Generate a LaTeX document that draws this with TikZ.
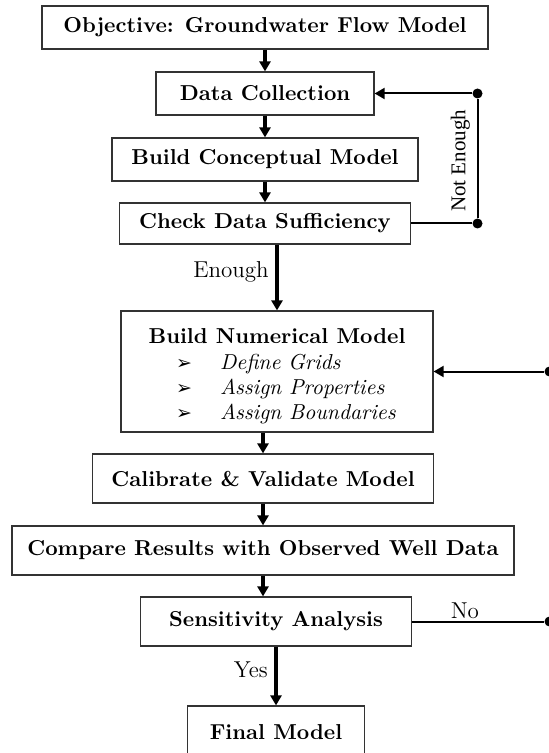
\documentclass[tikz,border=0pt]{standalone}
\usepackage{fontspec}
\newfontfamily\symfont{DejaVu Sans}
\newfontfamily\timesfont{Liberation Serif}
\usetikzlibrary{arrows.meta,positioning}
\tikzstyle{process} = [rectangle, draw=black!80, line width=0.6pt, align=center, inner sep=2pt, font=\fontsize{10.8}{12.5}\selectfont\bfseries]
\tikzstyle{arrow} = [line width=1.6pt,->,>={Triangle[length=5pt,width=5.5pt]}]
\tikzstyle{loopline} = [line width=1pt]
\tikzstyle{looparrow} = [line width=1pt,->,>={Triangle[length=5pt,width=5.5pt]}]
\tikzstyle{dot} = [circle, fill=black, inner sep=0pt, minimum size=5pt]
\tikzstyle{lbl} = [font=\fontsize{11.5}{13}\selectfont]

\begin{document}
\begin{tikzpicture}[node distance=33pt]
\useasboundingbox (0,0) rectangle (274.5pt,-376.5pt);
\node (objective) [process, minimum width=223pt, minimum height=21.5pt] at (132.5pt,-13.75pt) {Objective: Groundwater Flow Model};
\node (datacoll) [process, below of=objective, minimum width=109pt, minimum height=21.5pt] {Data Collection};
\draw [arrow] (objective) -- (datacoll);
\node (concept) [process, below of=datacoll, minimum width=153pt, minimum height=21.5pt] {Build Conceptual Model};
\draw [arrow] (datacoll) -- (concept);
\node (check) [process, below of=concept, yshift=1pt, minimum width=145.5pt, minimum height=20.5pt] {Check Data Sufficiency};
\draw [arrow] (concept) -- (check);

% not enough loop
\node (ckdot) [dot, right=30.5pt of check] {};
\node (dcdot) [dot] at (ckdot |- datacoll) {};
\draw [loopline] (check.east) -- (ckdot) -- node [font=\timesfont\fontsize{10.5}{12}\selectfont, rotate=90, anchor=south, pos=0.48] {Not Enough} (dcdot);
\draw [looparrow] (dcdot) -- (datacoll.east);

\node (numerical) [process, below of=check, yshift=-41pt, xshift=6pt, minimum width=156pt, minimum height=60.5pt] {\rule{0pt}{14pt}Build Numerical Model\\[3pt]
  {\normalfont\hspace*{9pt}\begin{tabular}{@{}l@{\hspace{14pt}}l@{}}
  {\symfont\fontsize{9.5}{10}\selectfont ➢} & \textit{Define Grids}\\
  {\symfont\fontsize{9.5}{10}\selectfont ➢} & \textit{Assign Properties}\\
  {\symfont\fontsize{9.5}{10}\selectfont ➢} & \textit{Assign Boundaries}
  \end{tabular}}};
\draw [arrow] (check.south -| numerical) -- node [lbl, left, pos=0.42] {Enough} (numerical);

\node (calibrate) [process, below of=numerical, yshift=-20.5pt, xshift=-7pt, minimum width=170.5pt, minimum height=24.5pt] {Calibrate \& Validate Model};
\draw [arrow] (numerical.south -| calibrate) -- (calibrate);
\node (compare) [process, below of=calibrate, yshift=-3pt, minimum width=251pt, minimum height=24.5pt] {Compare Results with Observed Well Data};
\draw [arrow] (calibrate) -- (compare);
\node (sensitivity) [process, below of=compare, yshift=-2.5pt, xshift=6.5pt, minimum width=135.5pt, minimum height=24.5pt] {Sensitivity Analysis};
\draw [arrow] (compare) -- (sensitivity.north -| compare);

% no loop
\node (nodot) [dot, right=66pt of sensitivity] {};
\node (numdot) [dot] at (nodot |- numerical) {};
\draw [loopline] (sensitivity.east) -- node [lbl, above, pos=0.4, inner sep=1pt] {No} (nodot) -- (numdot);
\draw [looparrow] (numdot) -- (numerical.east);

\node (final) [process, below of=sensitivity, yshift=-22.25pt, minimum width=88.5pt, minimum height=26pt] {Final Model};
\draw [arrow] (sensitivity) -- node [lbl, left, pos=0.4] {Yes} (final);

\end{tikzpicture}
\end{document}
